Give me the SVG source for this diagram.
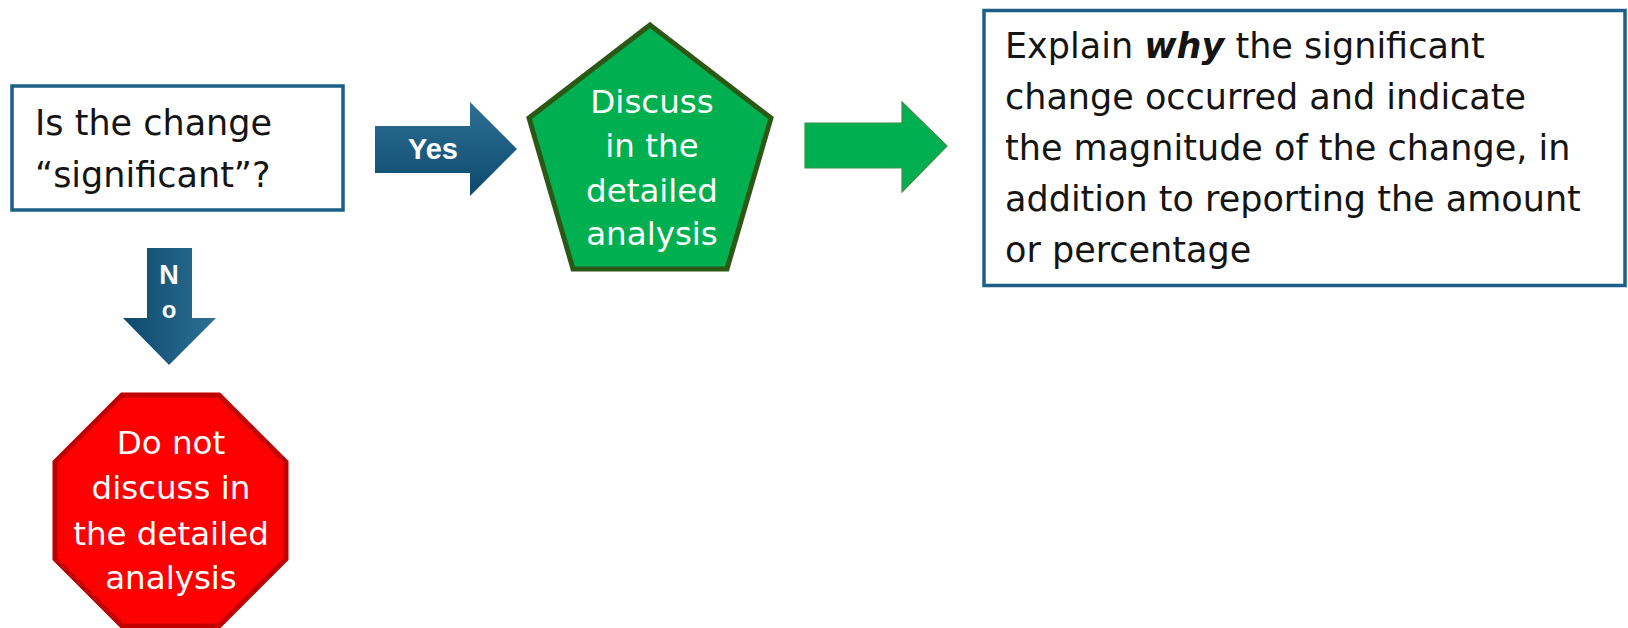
<svg xmlns="http://www.w3.org/2000/svg" width="1628" height="628" viewBox="0 0 1628 628">
<style>
.box{fill:#ffffff;stroke:#1d5f86;stroke-width:3.5}
.txt{font-family:"DejaVu Sans","Liberation Sans",sans-serif;fill:#141414}
.wtxt{font-family:"DejaVu Sans","Liberation Sans",sans-serif;fill:#ffffff;text-anchor:middle;font-size:32.5px}
.lbl{font-family:"Liberation Sans",Arial,sans-serif;font-weight:bold;fill:#ffffff;text-anchor:middle}
</style>
<defs>
<linearGradient id="gYes" x1="0" y1="0" x2="0" y2="1">
<stop offset="0" stop-color="#2f7096"/>
<stop offset="1" stop-color="#0c496c"/>
</linearGradient>
<linearGradient id="gNo" x1="1" y1="0" x2="0" y2="0">
<stop offset="0" stop-color="#2f7096"/>
<stop offset="1" stop-color="#0c496c"/>
</linearGradient>
</defs>

<g id="question">
<rect class="box" x="12" y="86" width="331" height="124"/>
<text class="txt" font-size="35" x="35" y="135">Is the change</text>
<text class="txt" font-size="35" x="35" y="187">“significant”?</text>
</g>

<g id="discuss">
<polygon points="650,25 771,118 727,269 573,269 529,118" fill="#00b050" stroke="#2c5816" stroke-width="5" stroke-linejoin="miter"/>
<text class="wtxt" x="652" y="113">Discuss</text>
<text class="wtxt" x="652" y="157">in the</text>
<text class="wtxt" x="652" y="202">detailed</text>
<text class="wtxt" x="652" y="245">analysis</text>
</g>

<g id="explain">
<rect class="box" x="984" y="10.5" width="641" height="275" stroke-width="3"/>
<text class="txt" font-size="35" x="1005" y="58">Explain <tspan font-weight="bold" font-style="italic">why</tspan> the significant</text>
<text class="txt" font-size="35" x="1005" y="109">change occurred and indicate</text>
<text class="txt" font-size="35" x="1005" y="160">the magnitude of the change, in</text>
<text class="txt" font-size="35" x="1005" y="211">addition to reporting the amount</text>
<text class="txt" font-size="35" x="1005" y="262">or percentage</text>
</g>

<g id="stop">
<polygon points="122,395 219,395 286,462 286,559 219,626 122,626 55,559 55,462" fill="#ff0000" stroke="#c00000" stroke-width="5"/>
<text class="wtxt" x="171" y="454">Do not</text>
<text class="wtxt" x="171" y="499">discuss in</text>
<text class="wtxt" x="171" y="545">the detailed</text>
<text class="wtxt" x="171" y="589">analysis</text>
</g>

<g id="connectors">
<g id="yes-arrow">
<polygon points="375,126 470,126 470,102 517,149 470,196 470,173 375,173" fill="url(#gYes)"/>
<text class="lbl" font-size="29" x="433" y="159">Yes</text>
</g>
<g id="no-arrow">
<polygon points="147,248 192,248 192,318 216,318 169,365 123,318 147,318" fill="url(#gNo)"/>
<text class="lbl" font-size="27" x="169" y="284">N</text>
<text class="lbl" font-size="24" x="169" y="318">o</text>
</g>
<g id="green-arrow">
<polygon points="805,123 902,123 902,102 947,146 902,192 902,168 805,168" fill="#00b050" stroke="#3f8f45" stroke-width="1.2"/>
</g>
</g>
</svg>
